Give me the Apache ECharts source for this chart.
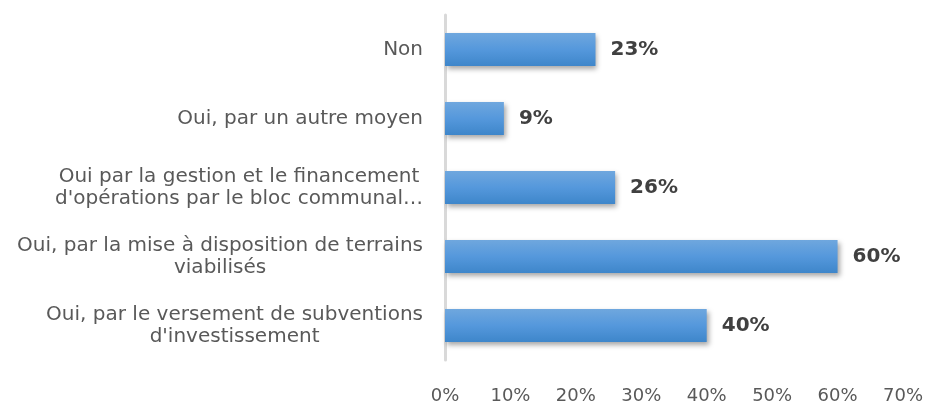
<!DOCTYPE html>
<html>
<head>
<meta charset="utf-8">
<script src="https://cdn.jsdelivr.net/npm/echarts@6/dist/echarts.min.js"></script>
<style>html,body{margin:0;padding:0;background:#fff;}#c{width:926px;height:405px;}</style>
</head>
<body>
<div id="c"></div>
<script>
var categories = [
  "Oui, par le versement de subventions\nd'investissement",
  "Oui, par la mise à disposition de terrains\nviabilisés",
  "Oui par la gestion et le financement\nd'opérations par le bloc communal…",
  "Oui, par un autre moyen",
  "Non"
];
var values = [40, 60, 26, 9, 23];
var xTicks = { min: 0, max: 70, interval: 10 };

var chart = echarts.init(document.getElementById('c'));
chart.setOption({
  animation: false,
  grid: { left: 445, right: 22, top: 15, bottom: 40, containLabel: false },
  xAxis: {
    type: 'value', min: xTicks.min, max: xTicks.max, interval: xTicks.interval,
    axisLine: { show: false }, axisTick: { show: false }, splitLine: { show: false },
    axisLabel: { formatter: '{value}%', color: '#595959', fontSize: 18, fontFamily: 'DejaVu Sans', margin: 27 }
  },
  yAxis: {
    type: 'category', data: categories,
    axisLine: { show: true, lineStyle: { color: '#d9d9d9', width: 3 } },
    axisTick: { show: false },
    axisLabel: {
      margin: 22, color: '#595959', fontSize: 20, fontFamily: 'DejaVu Sans', lineHeight: 22,
      formatter: function (v) { return '{a|' + v + '}'; },
      rich: { a: { align: 'center', color: '#595959', fontSize: 20, fontFamily: 'DejaVu Sans', lineHeight: 22 } }
    }
  },
  series: [{
    type: 'bar', data: values, barWidth: 33,
    itemStyle: {
      color: new echarts.graphic.LinearGradient(0, 0, 0, 1, [
        { offset: 0, color: '#6fa7de' },
        { offset: 0.5, color: '#5598dc' },
        { offset: 1, color: '#3e86ca' }
      ]),
      shadowColor: 'rgba(0,0,0,0.35)', shadowBlur: 5, shadowOffsetX: 2, shadowOffsetY: 3
    },
    label: {
      show: true, position: 'right', distance: 15, formatter: '{c}%',
      color: '#404040', fontSize: 20, fontWeight: 'bold', fontFamily: 'DejaVu Sans'
    }
  }]
});
</script>
</body>
</html>
